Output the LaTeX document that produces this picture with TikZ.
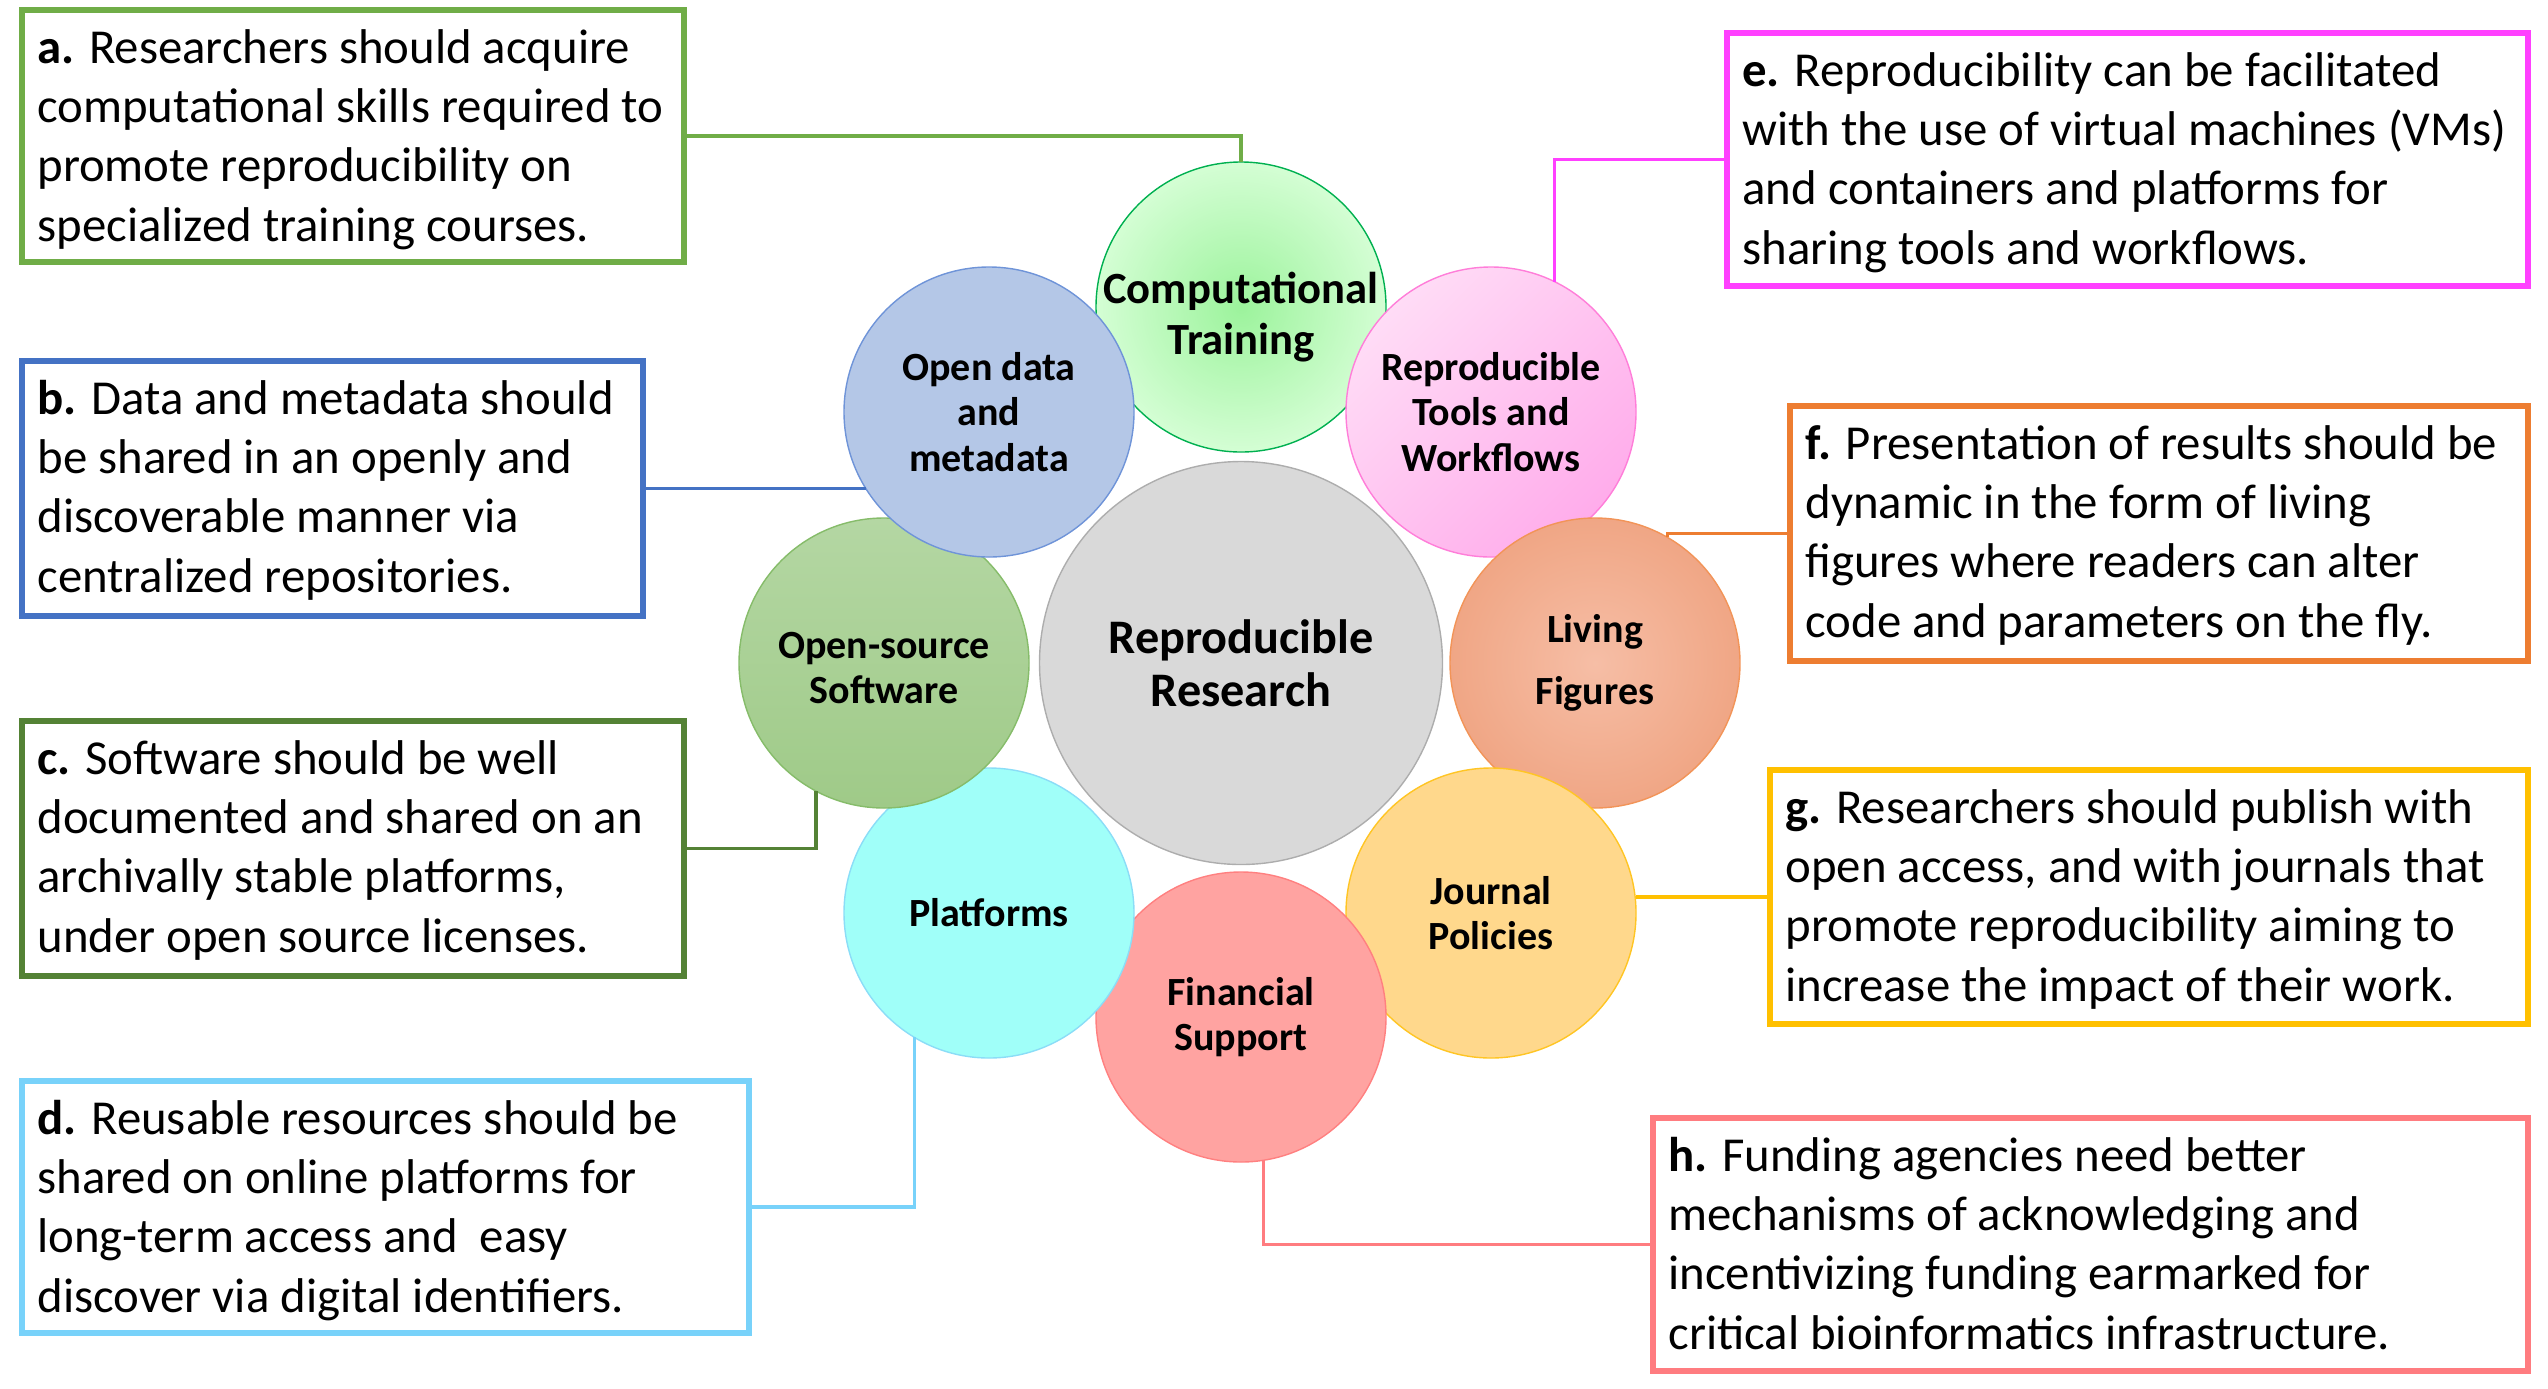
\documentclass[tikz,border=0pt]{standalone}
\usepackage{fontspec}
\setmainfont{Carlito}
\usetikzlibrary{calc}
\definecolor{ca}{HTML}{70AD47}
\definecolor{cb}{HTML}{4472C4}
\definecolor{cc}{HTML}{548235}
\definecolor{cd}{HTML}{78D2FA}
\definecolor{ce}{HTML}{FF40FF}
\definecolor{cf}{HTML}{ED7D31}
\definecolor{cg}{HTML}{FFC000}
\definecolor{ch}{HTML}{FF7C80}
\newcommand{\fl}{\rule{0pt}{20.72pt}}
\begin{document}
\begin{tikzpicture}[x=0.5pt,y=-0.5pt,
  boxst/.style={draw, line width=3.2pt, fill=white, anchor=north west, inner sep=0pt, outer sep=0pt},
  txt/.style={anchor=north west, inner sep=0pt, align=left, font=\fontsize{24.4}{29.6}\selectfont},
  conn/.style={line width=1.8pt},
  circ/.style={circle, minimum size=145pt, inner sep=0pt, outer sep=0pt, line width=0.7pt, align=center,
    font=\bfseries\fontsize{20}{22.8}\selectfont},
]
\useasboundingbox (0,0) rectangle (2548,1388);

% boxes
\node[boxst, draw=ca, minimum width=331pt, minimum height=126pt] (a) at (22,10) {};
\node[boxst, draw=cb, minimum width=310.5pt, minimum height=127.5pt] (b) at (22,361) {};
\node[boxst, draw=cc, minimum width=331pt, minimum height=127.5pt] (c) at (22,721) {};
\node[boxst, draw=cd, minimum width=363.5pt, minimum height=126pt] (d) at (22,1081) {};
\node[boxst, draw=ce, minimum width=400.5pt, minimum height=126.5pt] (e) at (1727,33) {};
\node[boxst, draw=cf, minimum width=369pt, minimum height=127.5pt] (f) at (1790,406) {};
\node[boxst, draw=cg, minimum width=379pt, minimum height=127pt] (g) at (1770,770) {};
\node[boxst, draw=ch, minimum width=437.5pt, minimum height=126.5pt] (h) at (1653,1118) {};

\node[txt] (ta) at ($(a.north west)+(15,11.6)$) {\fl\textbf{a.} Researchers should acquire\\computational skills required to\\promote reproducibility on\\specialized training courses.};
\node[txt] (tb) at ($(b.north west)+(15,11.6)$) {\fl\textbf{b.} Data and metadata should\\be shared in an openly and\\discoverable manner via\\centralized repositories.};
\node[txt] (tc) at ($(c.north west)+(15,11.6)$) {\fl\textbf{c.} Software should be well\\documented and shared on an\\archivally stable platforms,\\under open source licenses.};
\node[txt] (td) at ($(d.north west)+(15,11.6)$) {\fl\textbf{d.} Reusable resources should be\\shared on online platforms for\\long-term access and\ \ easy\\discover via digital identifiers.};
\node[txt] (te) at ($(e.north west)+(15,11.6)$) {\fl\textbf{e.} Reproducibility can be facilitated\\with the use of virtual machines (VMs)\\and containers and platforms for\\sharing tools and workflows.};
\node[txt] (tf) at ($(f.north west)+(15,11.6)$) {\fl\textbf{f.} Presentation of results should be\\dynamic in the form of living\\figures where readers can alter\\code and parameters on the fly.};
\node[txt] (tg) at ($(g.north west)+(15,11.6)$) {\fl\textbf{g.} Researchers should publish with\\open access, and with journals that\\promote reproducibility aiming to\\increase the impact of their work.};
\node[txt] (th) at ($(h.north west)+(15,11.6)$) {\fl\textbf{h.} Funding agencies need better\\mechanisms of acknowledging and\\incentivizing funding earmarked for\\critical bioinformatics infrastructure.};

% circles (bottom to top)
\node[circ, minimum size=201.5pt, fill={rgb,255:red,217;green,217;blue,217}, draw={rgb,255:red,173;green,173;blue,173},
  font=\bfseries\fontsize{24.1}{26.5}\selectfont] (rr) at (1241,663) {Reproducible\\Research};
\node[circ, inner sep=-6pt, inner color={rgb,255:red,156;green,243;blue,156}, outer color={rgb,255:red,212;green,254;blue,212}, draw={rgb,255:red,0;green,176;blue,80},
  font=\bfseries\fontsize{22.3}{25.5}\selectfont] (ct) at (1241,307) {\rule{0pt}{26pt}Computational\\Training};
\node[circ, top color={rgb,255:red,255;green,220;blue,246}, bottom color={rgb,255:red,255;green,172;blue,235}, shading angle=45,
  draw={rgb,255:red,255;green,126;blue,217}] (rt) at (1491,412) {Reproducible\\Tools and\\Workflows};
\node[circ, inner color={rgb,255:red,246;green,190;blue,166}, outer color={rgb,255:red,240;green,166;blue,133}, draw={rgb,255:red,242;green,148;blue,88},
  font=\bfseries\fontsize{20}{31}\selectfont] (lf) at (1595,663) {Living\\Figures};
\node[circ, fill={rgb,255:red,255;green,216;blue,140}, draw={rgb,255:red,255;green,197;blue,36}] (jp) at (1491,913) {Journal\\Policies};
\node[circ, fill={rgb,255:red,255;green,163;blue,161}, draw={rgb,255:red,255;green,128;blue,128}] (fs) at (1241,1017) {Financial\\Support};
\node[circ, fill={rgb,255:red,160;green,255;blue,249}, draw={rgb,255:red,139;green,221;blue,247}] (pl) at (989,913) {Platforms};
\node[circ, top color={rgb,255:red,180;green,215;blue,163}, bottom color={rgb,255:red,159;green,202;blue,136}, draw={rgb,255:red,134;green,188;blue,106}] (os) at (884,663) {\rule{0pt}{18pt}Open-source\\Software};
\node[circ, fill={rgb,255:red,180;green,199;blue,231}, draw={rgb,255:red,111;green,148;blue,216}] (od) at (989,412) {Open data\\and\\metadata};

% connectors
\draw[conn, ca] (a.east) -| (ct.north);
\draw[conn, cb] (b.east) -- (b.east -| od.212);
\draw[conn, cc] (c.east) -| (os.242);
\draw[conn, cd] (d.east) -| (pl.239);
\draw[conn, ce] (e.west) -| (rt.64);
\draw[conn, cf] (f.west) -| (lf.60);
\draw[conn, cg] (g.west) -- (g.west -| jp.east);
\draw[conn, ch] (h.west) -| (fs.279);
\end{tikzpicture}
\end{document}
